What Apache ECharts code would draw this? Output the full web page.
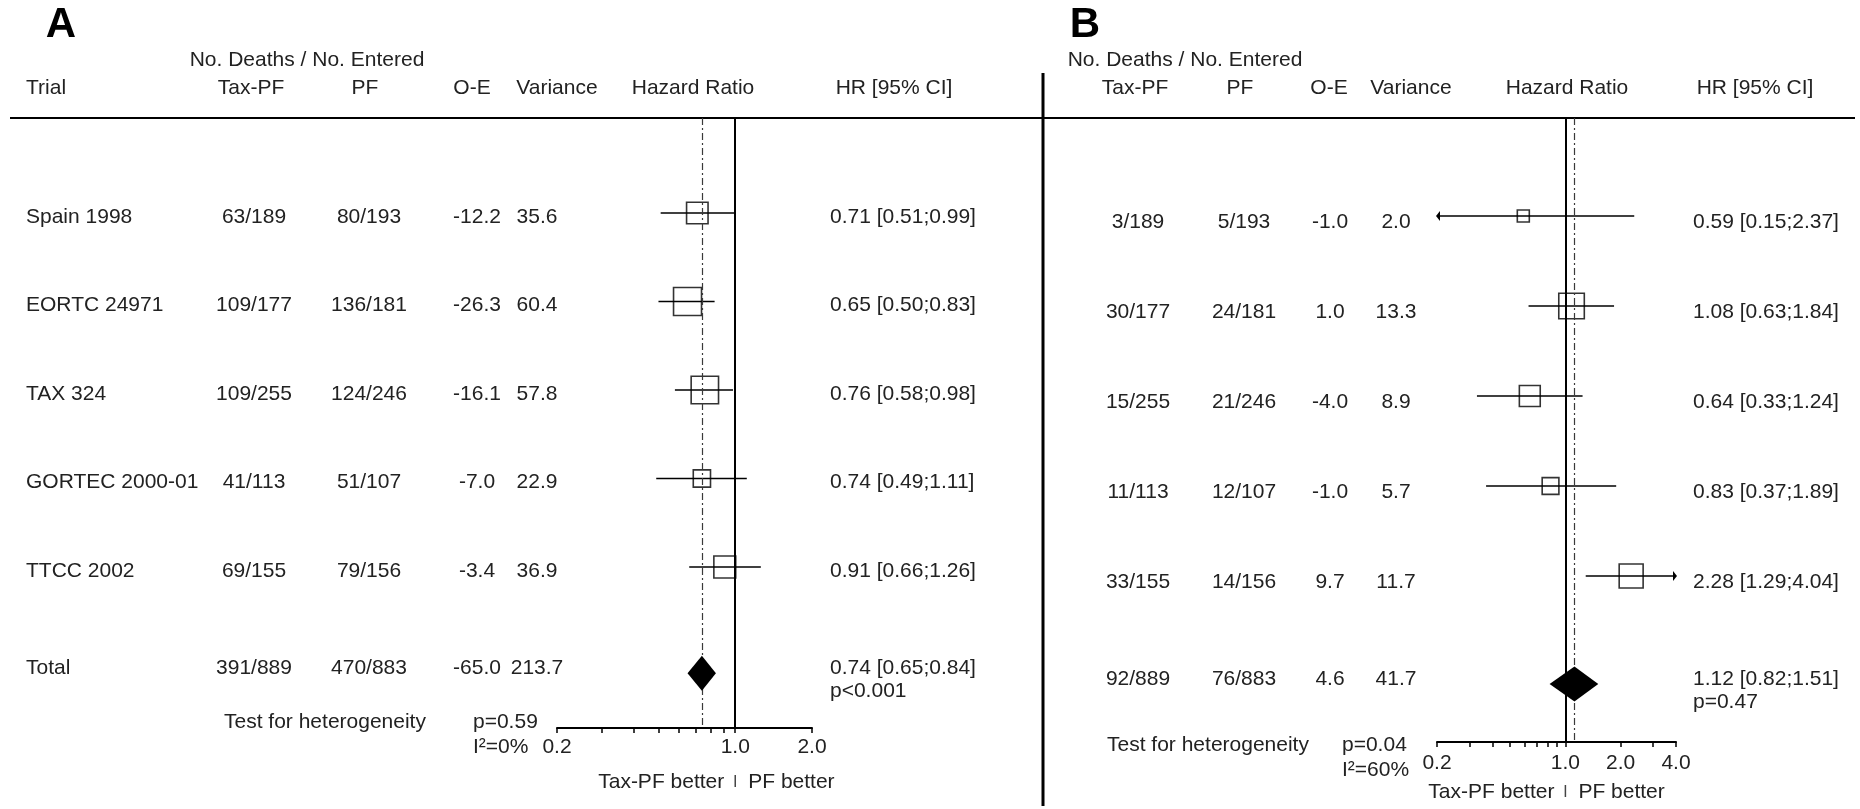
<!DOCTYPE html>
<html>
<head>
<meta charset="utf-8">
<title>Forest plots Tax-PF vs PF</title>
<script src="https://cdn.jsdelivr.net/npm/echarts@6/dist/echarts.min.js"></script>
<style>
  html, body { margin: 0; padding: 0; background: #ffffff; }
  #grafico { width: 1860px; height: 809px; }
</style>
</head>
<body>
<div id="grafico"></div>
<script>
// ---- Datos del panel A
const ensayosA = ['Spain 1998', 'EORTC 24971', 'TAX 324', 'GORTEC 2000-01', 'TTCC 2002'];
const muertesTaxA = ['63/189', '109/177', '109/255', '41/113', '69/155'];
const muertesPfA = ['80/193', '136/181', '124/246', '51/107', '79/156'];
const oeA = [-12.2, -26.3, -16.1, -7.0, -3.4];
const varianzaA = [35.6, 60.4, 57.8, 22.9, 36.9];
const hrA = [0.71, 0.65, 0.76, 0.74, 0.91];
const icInfA = [0.51, 0.50, 0.58, 0.49, 0.66];
const icSupA = [0.99, 0.83, 0.98, 1.11, 1.26];
const totalA = ['391/889', '470/883', -65.0, 213.7];
const hrTotalA = [0.74, 0.65, 0.84];
const pTotalA = 'p<0.001';
const heteroA = ['p=0.59', 'I²=0%'];
const ticksA = [0.2, 0.3, 0.4, 0.5, 0.6, 0.7, 0.8, 0.9, 1.0, 2.0];
const etiquetasA = [0.2, 1.0, 2.0];

// ---- Datos del panel B
const muertesTaxB = ['3/189', '30/177', '15/255', '11/113', '33/155'];
const muertesPfB = ['5/193', '24/181', '21/246', '12/107', '14/156'];
const oeB = [-1.0, 1.0, -4.0, -1.0, 9.7];
const varianzaB = [2.0, 13.3, 8.9, 5.7, 11.7];
const hrB = [0.59, 1.08, 0.64, 0.83, 2.28];
const icInfB = [0.15, 0.63, 0.33, 0.37, 1.29];
const icSupB = [2.37, 1.84, 1.24, 1.89, 4.04];
const totalB = ['92/889', '76/883', 4.6, 41.7];
const hrTotalB = [1.12, 0.82, 1.51];
const pTotalB = 'p=0.47';
const heteroB = ['p=0.04', 'I²=60%'];
const ticksB = [0.2, 0.3, 0.4, 0.5, 0.6, 0.7, 0.8, 0.9, 1.0, 2.0, 3.0, 4.0];
const etiquetasB = [0.2, 1.0, 2.0, 4.0];

const encabezados = ['Trial', 'Tax-PF', 'PF', 'O-E', 'Variance', 'Hazard Ratio', 'HR [95% CI]'];
const FILAS = [1, 2, 3, 4, 5];
const FILA_TOTAL = 6.2;
const EJE_MIN = 0.2;

const FUENTE = '"Liberation Sans", Arial, Helvetica, sans-serif';
const TAM = 21;
const COLOR_TEXTO = '#222222';

// Disposición (píxeles) de cada panel
const panelA = {
    left: 557, top: 118, width: 255, height: 610,
    fila1: 213, paso: 88.5, ejeMax: 2,
    colNombre: 26, colTax: 254, colPf: 369, colOe: 477, colVar: 537, colHr: 830,
    dyTexto: 4, dyTotal: -5, dyHrTotal: 7,
    escalaCuadro: 3.6, minCuadro: 10, margen: 9, dyMejor: 54,
    encabezadoX: [26, 251, 365, 472, 557, 693, 894], muertesX: 307, letraX: 61,
    heteroX: [224, 473], heteroY: [722, 747]
};
const panelB = {
    left: 1437, top: 118, width: 239, height: 624,
    fila1: 216, paso: 90, ejeMax: 4,
    colNombre: null, colTax: 1138, colPf: 1244, colOe: 1330, colVar: 1396, colHr: 1693,
    dyTexto: 6, dyTotal: -5, dyHrTotal: 7,
    escalaCuadro: 7, minCuadro: 12, margen: 11, dyMejor: 50,
    encabezadoX: [null, 1135, 1240, 1329, 1411, 1567, 1755], muertesX: 1185, letraX: 1085,
    heteroX: [1107, 1342], heteroY: [745, 770]
};

function texto(x, y, s, alinear, extra) {
    return Object.assign({
        type: 'text', x: x, y: y, silent: true,
        style: {
            text: s, fill: COLOR_TEXTO, fontSize: TAM, fontFamily: FUENTE,
            align: alinear, verticalAlign: 'middle',
            textAlign: alinear, textVerticalAlign: 'middle'
        }
    }, extra || {});
}

// Construye grid, ejes y series de un panel
function construirPanel(k, p, d) {
    const yMin = 1 - (p.fila1 - p.top) / p.paso;
    const yMax = 1 + (p.top + p.height - p.fila1) / p.paso;

    const grid = { left: p.left, top: p.top, width: p.width, height: p.height };
    const xAxis = {
        gridIndex: k, type: 'log', logBase: 10, min: EJE_MIN, max: p.ejeMax,
        axisLine: { onZero: false, lineStyle: { color: '#000', width: 2 } },
        axisTick: { customValues: d.ticks, length: 5, lineStyle: { color: '#000', width: 1.5 } },
        axisLabel: {
            customValues: d.etiquetas, margin: p.margen,
            formatter: v => Number(v).toFixed(1),
            color: COLOR_TEXTO, fontSize: TAM, fontFamily: FUENTE
        },
        splitLine: { show: false }
    };
    const yAxis = { gridIndex: k, type: 'value', inverse: true, min: yMin, max: yMax, show: false };

    const filasTabla = FILAS.map(f => [1, f]).concat([[1, FILA_TOTAL]]);

    const tabla = {
        type: 'custom', xAxisIndex: k, yAxisIndex: k, clip: false, silent: true,
        data: filasTabla,
        renderItem: (params, api) => {
            const i = params.dataIndex;
            const esTotal = i === FILAS.length;
            const yBase = api.coord([1, api.value(1)])[1];
            const y = yBase + (esTotal ? p.dyTotal : p.dyTexto);
            const hijos = [];
            if (p.colNombre !== null) {
                hijos.push(texto(p.colNombre, y, esTotal ? 'Total' : d.nombres[i], 'left'));
            }
            hijos.push(texto(p.colTax, y, esTotal ? d.total[0] : d.tax[i], 'center'));
            hijos.push(texto(p.colPf, y, esTotal ? d.total[1] : d.pf[i], 'center'));
            hijos.push(texto(p.colOe, y, (esTotal ? d.total[2] : d.oe[i]).toFixed(1), 'center'));
            hijos.push(texto(p.colVar, y, (esTotal ? d.total[3] : d.varianza[i]).toFixed(1), 'center'));
            if (esTotal) {
                const t = d.hrTotal;
                const s = `${t[0].toFixed(2)} [${t[1].toFixed(2)};${t[2].toFixed(2)}]\n${d.pTotal}`;
                const el = texto(p.colHr, yBase + p.dyHrTotal, s, 'left');
                el.style.lineHeight = 23;
                hijos.push(el);
            } else {
                const s = `${d.hr[i].toFixed(2)} [${d.lo[i].toFixed(2)};${d.hi[i].toFixed(2)}]`;
                hijos.push(texto(p.colHr, y, s, 'left'));
            }
            return { type: 'group', children: hijos };
        }
    };

    // Intervalos de confianza con flechas cuando se salen del eje
    const intervalos = {
        type: 'custom', xAxisIndex: k, yAxisIndex: k, clip: false, silent: true, z: 3,
        encode: { x: [0, 2, 3], y: 1 },
        data: d.hr.map((h, i) => [d.lo[i], FILAS[i], d.hi[i], h]),
        renderItem: (params, api) => {
            const lo = api.value(0), fila = api.value(1), hi = api.value(2);
            const ini = api.coord([EJE_MIN, fila]);
            const y = ini[1];
            const xFin = api.coord([p.ejeMax, fila])[0];
            const x1 = lo < EJE_MIN ? ini[0] : api.coord([lo, fila])[0];
            const x2 = hi > p.ejeMax ? xFin : api.coord([hi, fila])[0];
            const hijos = [{
                type: 'line', shape: { x1: x1, y1: y, x2: x2, y2: y },
                style: { stroke: '#000', lineWidth: 1.6 }
            }];
            if (lo < EJE_MIN) {
                hijos.push({ type: 'polygon', shape: { points: [[x1 - 1, y], [x1 + 3, y - 5], [x1 + 3, y + 5]] }, style: { fill: '#000' } });
            }
            if (hi > p.ejeMax) {
                hijos.push({ type: 'polygon', shape: { points: [[x2 + 1, y], [x2 - 3, y - 5], [x2 - 3, y + 5]] }, style: { fill: '#000' } });
            }
            return { type: 'group', children: hijos };
        }
    };

    const cuadros = {
        type: 'scatter', xAxisIndex: k, yAxisIndex: k, silent: true, z: 4,
        symbol: 'rect',
        symbolSize: v => Math.max(p.minCuadro, p.escalaCuadro * Math.sqrt(v[2])),
        data: d.hr.map((h, i) => [h, FILAS[i], d.varianza[i]]),
        itemStyle: { color: 'rgba(0,0,0,0)', borderColor: '#000', borderWidth: 1.6 },
        emphasis: { disabled: true },
        markLine: {
            silent: true, symbol: 'none', label: { show: false },
            data: [
                { xAxis: 1, lineStyle: { type: 'solid', color: '#000', width: 2 } },
                { xAxis: d.hrTotal[0], lineStyle: { type: [7, 3, 2, 3], color: '#3a3a3a', width: 1.2 } }
            ]
        }
    };

    const diamante = {
        type: 'custom', xAxisIndex: k, yAxisIndex: k, clip: false, silent: true, z: 10,
        encode: { x: [0, 2, 3], y: 1 },
        data: [[d.hrTotal[1], FILA_TOTAL, d.hrTotal[2], d.hrTotal[0]]],
        renderItem: (params, api) => {
            const fila = api.value(1);
            const a = api.coord([api.value(0), fila]);
            const b = api.coord([api.value(2), fila]);
            const c = api.coord([api.value(3), fila]);
            return {
                type: 'polygon',
                shape: { points: [[a[0], a[1]], [c[0], c[1] - 17.5], [b[0], b[1]], [c[0], c[1] + 17.5]] },
                style: { fill: '#000' }
            };
        }
    };

    // Leyenda inferior "Tax-PF better | PF better" anclada en HR = 1
    const pie = {
        type: 'custom', xAxisIndex: k, yAxisIndex: k, clip: false, silent: true,
        data: [[1, yMax]],
        renderItem: (params, api) => {
            const c = api.coord([api.value(0), api.value(1)]);
            const y = c[1] + p.dyMejor;
            return {
                type: 'group',
                children: [
                    texto(c[0] - 11, y, 'Tax-PF better', 'right'),
                    { type: 'line', shape: { x1: c[0], y1: y - 7, x2: c[0], y2: y + 5 }, style: { stroke: '#444', lineWidth: 1.5 } },
                    texto(c[0] + 13, y, 'PF better', 'left')
                ]
            };
        }
    };

    return { grid, xAxis, yAxis, series: [intervalos, cuadros, diamante, tabla, pie] };
}

function graficosPanel(p, letra, hetero) {
    const g = [];
    const titulo = texto(p.letraX, 25, letra, 'center');
    titulo.style.fontSize = 42;
    titulo.style.fontWeight = 'bold';
    titulo.style.fill = '#000';
    g.push(titulo);
    g.push(texto(p.muertesX, 60, 'No. Deaths / No. Entered', 'center'));
    encabezados.forEach((e, i) => {
        if (p.encabezadoX[i] === null) return;
        g.push(texto(p.encabezadoX[i], 88, e, i === 0 ? 'left' : 'center'));
    });
    g.push(texto(p.heteroX[0], p.heteroY[0], 'Test for heterogeneity', 'left'));
    g.push(texto(p.heteroX[1], p.heteroY[0], hetero[0], 'left'));
    g.push(texto(p.heteroX[1], p.heteroY[1], hetero[1], 'left'));
    return g;
}

const grafico = echarts.init(document.getElementById('grafico'));

const a = construirPanel(0, panelA, {
    nombres: ensayosA, tax: muertesTaxA, pf: muertesPfA, oe: oeA, varianza: varianzaA,
    hr: hrA, lo: icInfA, hi: icSupA, total: totalA, hrTotal: hrTotalA, pTotal: pTotalA,
    ticks: ticksA, etiquetas: etiquetasA
});
const b = construirPanel(1, panelB, {
    nombres: null, tax: muertesTaxB, pf: muertesPfB, oe: oeB, varianza: varianzaB,
    hr: hrB, lo: icInfB, hi: icSupB, total: totalB, hrTotal: hrTotalB, pTotal: pTotalB,
    ticks: ticksB, etiquetas: etiquetasB
});

const lineas = [
    { type: 'line', silent: true, shape: { x1: 10, y1: 118, x2: 1855, y2: 118 }, style: { stroke: '#000', lineWidth: 2 } },
    { type: 'line', silent: true, shape: { x1: 1043, y1: 73, x2: 1043, y2: 806 }, style: { stroke: '#000', lineWidth: 3 } }
];

grafico.setOption({
    backgroundColor: '#ffffff',
    animation: false,
    grid: [a.grid, b.grid],
    xAxis: [a.xAxis, b.xAxis],
    yAxis: [a.yAxis, b.yAxis],
    graphic: { elements: lineas.concat(graficosPanel(panelA, 'A', heteroA), graficosPanel(panelB, 'B', heteroB)) },
    series: a.series.concat(b.series)
});

window.addEventListener('resize', () => grafico.resize());
</script>
</body>
</html>
